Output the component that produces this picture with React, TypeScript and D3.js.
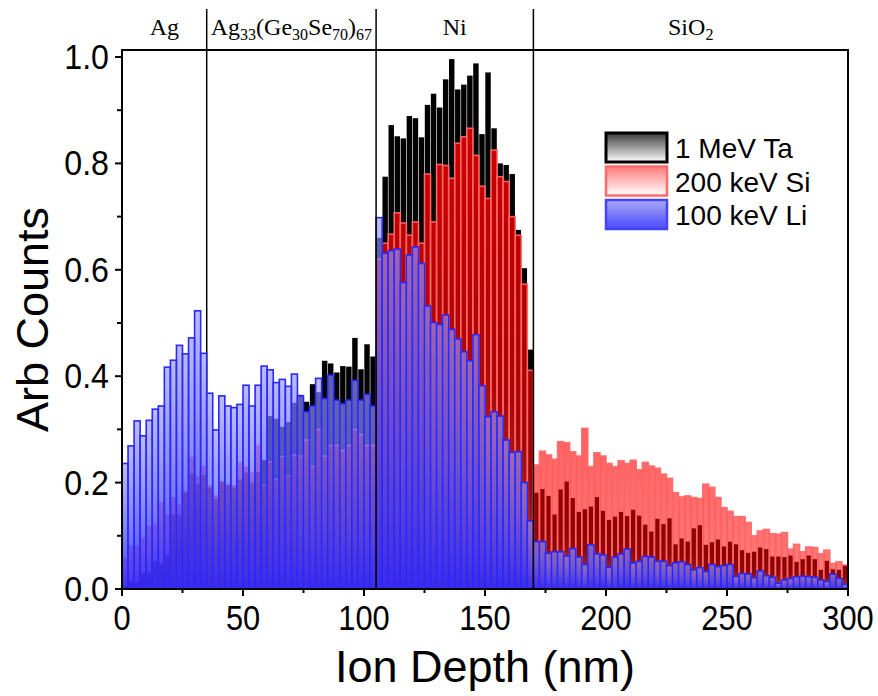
import React, { useEffect, useRef } from 'react';
import * as d3 from 'd3';

// histogram bins are 2.5 nm wide, 0..300 nm (120 bins)
const BIN_WIDTH = 2.5;

// 1 MeV Ta
const taCounts = [
  0.005, 0.014, 0.012, 0.030, 0.031, 0.053, 0.048, 0.064, 0.140, 0.139,
  0.182, 0.217, 0.197, 0.214, 0.194, 0.170, 0.202, 0.197, 0.191, 0.206,
  0.219, 0.199, 0.220, 0.242, 0.325, 0.320, 0.305, 0.314, 0.350, 0.365,
  0.352, 0.385, 0.370, 0.429, 0.424, 0.407, 0.419, 0.418, 0.472, 0.413,
  0.460, 0.437, 0.660, 0.775, 0.872, 0.851, 0.847, 0.889, 0.885, 0.849,
  0.910, 0.931, 0.905, 0.958, 0.996, 0.939, 0.948, 0.965, 0.988, 0.855,
  0.971, 0.866, 0.800, 0.797, 0.780, 0.675, 0.603, 0.450, 0.181, 0.188,
  0.175, 0.140, 0.187, 0.202, 0.171, 0.145, 0.150, 0.155, 0.173, 0.147,
  0.130, 0.136, 0.145, 0.137, 0.149, 0.138, 0.121, 0.108, 0.132, 0.122,
  0.133, 0.084, 0.095, 0.089, 0.114, 0.120, 0.083, 0.088, 0.093, 0.080,
  0.089, 0.084, 0.073, 0.068, 0.070, 0.078, 0.075, 0.061, 0.061, 0.060,
  0.063, 0.051, 0.056, 0.063, 0.056, 0.036, 0.053, 0.037, 0.036, 0.045,
];

// 200 keV Si
const siCounts = [
  0.057, 0.080, 0.080, 0.095, 0.117, 0.122, 0.162, 0.139, 0.171, 0.157,
  0.183, 0.247, 0.211, 0.230, 0.192, 0.175, 0.202, 0.196, 0.194, 0.237,
  0.229, 0.218, 0.270, 0.196, 0.239, 0.206, 0.249, 0.212, 0.252, 0.250,
  0.280, 0.230, 0.300, 0.250, 0.270, 0.270, 0.260, 0.270, 0.300, 0.290,
  0.270, 0.270, 0.620, 0.650, 0.667, 0.707, 0.688, 0.665, 0.690, 0.650,
  0.780, 0.690, 0.798, 0.796, 0.772, 0.838, 0.850, 0.866, 0.815, 0.757,
  0.734, 0.825, 0.775, 0.766, 0.700, 0.665, 0.573, 0.411, 0.233, 0.259,
  0.252, 0.244, 0.277, 0.275, 0.258, 0.250, 0.302, 0.230, 0.256, 0.250,
  0.236, 0.230, 0.241, 0.236, 0.242, 0.224, 0.238, 0.231, 0.227, 0.216,
  0.208, 0.181, 0.173, 0.175, 0.172, 0.170, 0.197, 0.191, 0.172, 0.153,
  0.146, 0.136, 0.136, 0.125, 0.100, 0.109, 0.112, 0.104, 0.103, 0.106,
  0.075, 0.084, 0.070, 0.079, 0.078, 0.066, 0.073, 0.048, 0.051, 0.045,
];

// 100 keV Li
const liCounts = [
  0.236, 0.269, 0.316, 0.288, 0.317, 0.338, 0.344, 0.417, 0.430, 0.458,
  0.442, 0.472, 0.523, 0.443, 0.368, 0.299, 0.363, 0.344, 0.341, 0.347,
  0.383, 0.344, 0.383, 0.419, 0.412, 0.388, 0.394, 0.381, 0.404, 0.363,
  0.333, 0.344, 0.396, 0.358, 0.402, 0.355, 0.348, 0.355, 0.392, 0.355,
  0.366, 0.344, 0.698, 0.631, 0.636, 0.639, 0.576, 0.628, 0.643, 0.612,
  0.532, 0.501, 0.497, 0.515, 0.488, 0.470, 0.446, 0.429, 0.478, 0.382,
  0.324, 0.333, 0.325, 0.280, 0.257, 0.258, 0.200, 0.128, 0.089, 0.089,
  0.067, 0.070, 0.070, 0.062, 0.076, 0.060, 0.046, 0.083, 0.066, 0.064,
  0.041, 0.060, 0.066, 0.075, 0.049, 0.052, 0.061, 0.060, 0.052, 0.052,
  0.044, 0.049, 0.051, 0.046, 0.036, 0.040, 0.033, 0.046, 0.042, 0.044,
  0.046, 0.024, 0.029, 0.028, 0.021, 0.034, 0.025, 0.022, 0.011, 0.017,
  0.020, 0.023, 0.024, 0.023, 0.022, 0.017, 0.014, 0.028, 0.020, 0.009,
];

const seriesNames = ['1 MeV Ta', '200 keV Si', '100 keV Li'];

// layer boundaries (nm)
const boundaries = [35, 105, 170];

const xTicks = [0, 50, 100, 150, 200, 250, 300];
const xMinor = [25, 75, 125, 175, 225, 275];
const yTicks = [0, 0.2, 0.4, 0.6, 0.8, 1.0];
const yMinor = [0.1, 0.3, 0.5, 0.7, 0.9];

const W = 878;
const H = 696;

const App = () => {
  const svgRef = useRef(null);

  useEffect(() => {
    const svg = d3.select(svgRef.current);
    svg.selectAll('*').remove();

    const left = 122, right = 848, top = 50, bottom = 589;
    const x = d3.scaleLinear().domain([0, 300]).range([left, right]);
    const y = d3.scaleLinear().domain([0, 1]).range([bottom, 57]);

    const defs = svg.append('defs');

    // gradients
    const taGrad = defs.append('linearGradient').attr('id', 'taGrad')
      .attr('x1', 0).attr('y1', 0).attr('x2', 0).attr('y2', 1);
    taGrad.append('stop').attr('offset', '0%').attr('stop-color', '#000');
    taGrad.append('stop').attr('offset', '55%').attr('stop-color', '#111');
    taGrad.append('stop').attr('offset', '100%').attr('stop-color', '#888');

    const siGrad = defs.append('linearGradient').attr('id', 'siGrad')
      .attr('gradientUnits', 'userSpaceOnUse')
      .attr('x1', 0).attr('y1', y(1)).attr('x2', 0).attr('y2', y(0));
    siGrad.append('stop').attr('offset', '0%').attr('stop-color', '#ff0000').attr('stop-opacity', 0.85);
    siGrad.append('stop').attr('offset', '100%').attr('stop-color', '#ff0000').attr('stop-opacity', 0.52);

    const liGrad = defs.append('linearGradient').attr('id', 'liGrad')
      .attr('x1', 0).attr('y1', 0).attr('x2', 0).attr('y2', 1);
    liGrad.append('stop').attr('offset', '0%').attr('stop-color', 'rgb(150,150,255)').attr('stop-opacity', 0.65);
    liGrad.append('stop').attr('offset', '100%').attr('stop-color', 'rgb(40,40,255)').attr('stop-opacity', 0.88);

    // legend gradients
    const lg = (id, c0, c1) => {
      const g = defs.append('linearGradient').attr('id', id)
        .attr('x1', 0).attr('y1', 0).attr('x2', 0).attr('y2', 1);
      g.append('stop').attr('offset', '0%').attr('stop-color', c0);
      g.append('stop').attr('offset', '100%').attr('stop-color', c1);
    };
    lg('lgTa', '#3a3a3a', '#ffffff');
    lg('lgSi', '#ff7a7a', '#ffffff');
    lg('lgLi', '#a8a8f4', '#4a4aff');

    defs.append('clipPath').attr('id', 'plotClip')
      .append('rect').attr('x', left).attr('y', top)
      .attr('width', right - left).attr('height', bottom - top);

    // Ag boundary sits under the bars
    svg.append('line')
      .attr('x1', x(boundaries[0])).attr('x2', x(boundaries[0]))
      .attr('y1', 9).attr('y2', bottom)
      .attr('stroke', '#000').attr('stroke-width', 1.5);

    const plot = svg.append('g').attr('clip-path', 'url(#plotClip)');

    const drawBars = (data, cls, attrs) => {
      const sel = plot.append('g').attr('class', cls)
        .selectAll('rect')
        .data(data)
        .join('rect')
        .attr('x', (d, i) => x(i * BIN_WIDTH) + (attrs.inset || 0))
        .attr('width', (d, i) => x((i + 1) * BIN_WIDTH) - x(i * BIN_WIDTH) - 2 * (attrs.inset || 0))
        .attr('y', d => y(d))
        .attr('height', d => y(0) - y(d))
        .attr('fill', attrs.fill);
      if (attrs.stroke) {
        sel.attr('stroke', attrs.stroke).attr('stroke-width', attrs.strokeWidth);
      }
    };

    drawBars(taCounts, 'ta', { fill: 'url(#taGrad)', inset: 0.3 });
    drawBars(siCounts, 'si', { fill: 'url(#siGrad)', stroke: 'rgba(255,105,105,0.9)', strokeWidth: 1.6 });
    drawBars(liCounts, 'li', { fill: 'url(#liGrad)', stroke: 'rgb(40,40,255)', strokeWidth: 1.6 });

    // Ni and SiO2 boundaries
    boundaries.slice(1).forEach(b => {
      svg.append('line')
        .attr('x1', x(b)).attr('x2', x(b))
        .attr('y1', 9).attr('y2', bottom)
        .attr('stroke', '#000').attr('stroke-width', 1.5);
    });

    // frame
    svg.append('rect')
      .attr('x', left).attr('y', top)
      .attr('width', right - left).attr('height', bottom - top)
      .attr('fill', 'none').attr('stroke', '#000').attr('stroke-width', 2);

    // ticks
    const tickG = svg.append('g').attr('stroke', '#000').attr('stroke-width', 2);
    xTicks.forEach(t => tickG.append('line').attr('x1', x(t)).attr('x2', x(t)).attr('y1', bottom).attr('y2', bottom + 7));
    xMinor.forEach(t => tickG.append('line').attr('x1', x(t)).attr('x2', x(t)).attr('y1', bottom).attr('y2', bottom + 4));
    yTicks.forEach(t => tickG.append('line').attr('x1', left - 7).attr('x2', left).attr('y1', y(t)).attr('y2', y(t)));
    yMinor.forEach(t => tickG.append('line').attr('x1', left - 5).attr('x2', left).attr('y1', y(t)).attr('y2', y(t)));

    const sans = 'Arial, "Liberation Sans", sans-serif';

    // tick labels
    svg.append('g').selectAll('text')
      .data(xTicks)
      .join('text')
      .attr('transform', d => `translate(${x(d)},${bottom + 41}) scale(0.88,1)`)
      .attr('text-anchor', 'middle')
      .attr('font-family', sans)
      .attr('font-size', 35)
      .text(d => d);

    svg.append('g').selectAll('text')
      .data(yTicks)
      .join('text')
      .attr('transform', d => `translate(${left - 13},${y(d) + 12}) scale(0.92,1)`)
      .attr('text-anchor', 'end')
      .attr('font-family', sans)
      .attr('font-size', 35)
      .text(d => d.toFixed(1));

    // axis titles
    svg.append('text')
      .attr('x', (left + right) / 2).attr('y', 682)
      .attr('text-anchor', 'middle')
      .attr('font-family', sans).attr('font-size', 45)
      .text('Ion Depth (nm)');

    svg.append('text')
      .attr('transform', `translate(48,${(top + bottom) / 2}) rotate(-90)`)
      .attr('text-anchor', 'middle')
      .attr('font-family', sans).attr('font-size', 45)
      .text('Arb Counts');

    // layer labels
    const serif = '"Times New Roman", "Liberation Serif", serif';
    const edges = [0, ...boundaries, 300];
    const labels = [
      [['Ag', false]],
      [['Ag', false], ['33', true], ['(Ge', false], ['30', true], ['Se', false], ['70', true], [')', false], ['67', true]],
      [['Ni', false]],
      [['SiO', false], ['2', true]],
    ];
    labels.forEach((parts, k) => {
      const t = svg.append('text')
        .attr('x', x((edges[k] + edges[k + 1]) / 2)).attr('y', 35)
        .attr('text-anchor', 'middle')
        .attr('font-family', serif).attr('font-size', 24);
      let shifted = false;
      parts.forEach(([s, sub]) => {
        const ts = t.append('tspan').text(s);
        if (sub && !shifted) { ts.attr('dy', 5).attr('font-size', 16); shifted = true; }
        else if (sub) { ts.attr('font-size', 16); }
        else if (shifted) { ts.attr('dy', -5); shifted = false; }
      });
    });

    // legend
    const legendFills = ['url(#lgTa)', 'url(#lgSi)', 'url(#lgLi)'];
    const legendStrokes = ['#000', '#ff6a6a', '#4444ff'];
    const legendWidths = [3, 2.5, 2.5];
    const leg = svg.append('g');
    seriesNames.forEach((name, i) => {
      const yy = 133 + i * 33.5;
      leg.append('rect')
        .attr('x', 606).attr('y', yy)
        .attr('width', 61).attr('height', 29)
        .attr('fill', legendFills[i])
        .attr('stroke', legendStrokes[i]).attr('stroke-width', legendWidths[i]);
      leg.append('text')
        .attr('x', 675).attr('y', yy + 25)
        .attr('font-family', sans).attr('font-size', 28)
        .text(name);
    });
  }, []);

  return (
    <svg
      ref={svgRef}
      width={W}
      height={H}
      style={{ position: 'absolute', left: 0, top: 0, background: '#fff' }}
    />
  );
};

export default App;
